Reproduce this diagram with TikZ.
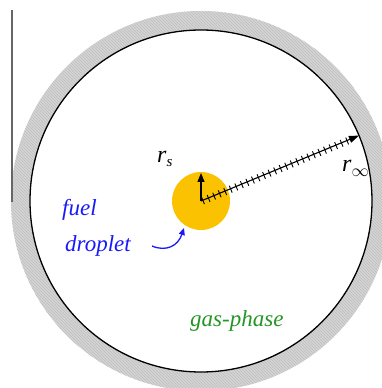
\documentclass[tikz,border=0pt]{standalone}
\usepackage{fontspec}
\setmainfont{Liberation Serif}
\usetikzlibrary{arrows.meta,patterns,calc}
\definecolor{gold}{RGB}{250,194,0}
\definecolor{fblue}{RGB}{25,25,250}
\definecolor{fgreen}{RGB}{35,150,35}
\definecolor{ringgray}{RGB}{212,212,212}
\begin{document}
\begin{tikzpicture}[x=1pt,y=1pt,
  lbl/.style={inner sep=0pt,font=\fontsize{23}{27}\selectfont\itshape},
  rlbl/.style={inner sep=0pt,font=\fontsize{24}{27}\selectfont\itshape},
  arr/.style={line width=1.1pt,-{Triangle[length=9pt,width=7pt]}},
  tick/.style={line width=0.9pt}]
\useasboundingbox (0,0) rectangle (382,388);
\clip (0,0) rectangle (382,388);
\coordinate (c) at (201,187);
% ring
\fill[ringgray,even odd rule] (c) circle[radius=190] (c) circle[radius=171];
\fill[pattern=north west lines,pattern color=gray!50,even odd rule] (c) circle[radius=190] (c) circle[radius=171];
\draw[line width=1.3pt] (c) circle[radius=171];
% left vertical line
\coordinate (vt) at (12,378);
\coordinate (vb) at (12,186);
\draw[gray!80!black,line width=1.1pt] (vt) -- (vb);
% droplet
\node[circle,fill=gold,minimum size=58pt,inner sep=0pt] (drop) at (c) {};
\coordinate (rs) at ($(c)+(90:28)$);
\coordinate (rinf) at ($(c)+(22.5:171)$);
\draw[arr] (c) -- (rs);
\draw[line width=1.1pt,-{Triangle[length=10pt,width=7pt]}] (c) -- (rinf);
\begin{scope}[shift={(c)},rotate=22.5]
  \foreach \d in {2,8,...,160} \draw[tick] (\d,-4.2) -- (\d,3.2);
\end{scope}
% labels
\node[rlbl,anchor=base west] (lrs) at (157,225) {r\raisebox{-0.35ex}{\fontsize{15}{17}\selectfont s}};
\node[rlbl,anchor=base west] (lrinf) at (342,216) {r\raisebox{-0.4ex}{$\scriptstyle\infty$}};
\node[lbl,fblue,anchor=base west] (fuel) at (62,172) {fuel};
\node[lbl,fblue,anchor=base west] (droplet) at (65,136) {droplet};
\node[lbl,fgreen,anchor=base west] (gas) at (190,61) {gas-phase};
% blue arrow
\coordinate (bs) at (152,142);
\coordinate (be) at (184,160);
\draw[fblue,line width=1.3pt,-{Triangle[length=7pt,width=6pt]}] (bs) .. controls (166,136) and (178,142) .. (be);
\end{tikzpicture}
\end{document}
